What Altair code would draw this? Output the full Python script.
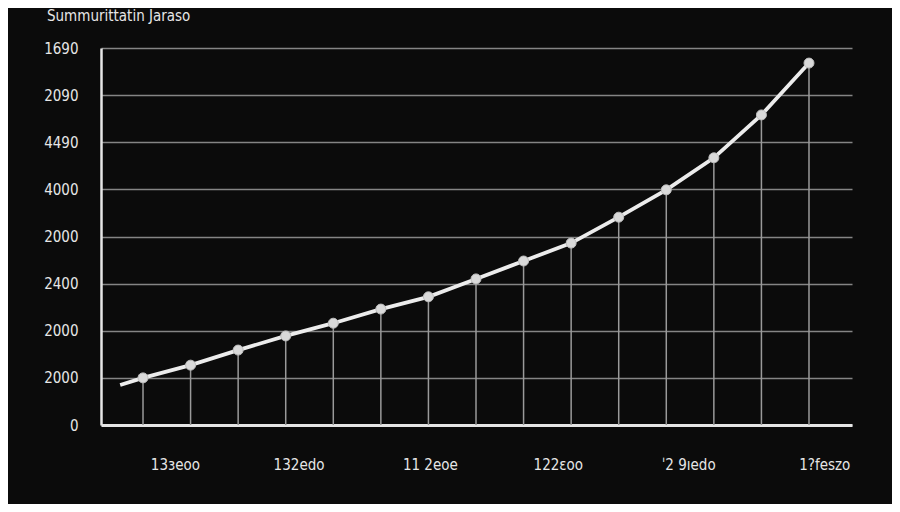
import json
import altair as alt
import pandas as pd

# ---------------- data ----------------
title_text = "Summurittatin Jaraso"

point_index = [1, 2, 3, 4, 5, 6, 7, 8, 9, 10, 11, 12, 13, 14, 15]
point_values = [1000, 1270, 1590, 1890, 2160, 2460, 2720, 3100, 3480, 3860, 4410, 4990, 5670, 6580, 7680]

lead_index = [0.52]
lead_values = [850]

y_tick_values = [0, 1000, 2000, 3000, 4000, 5000, 6000, 7000, 8000]
y_tick_labels = ["0", "2000", "2000", "2400", "2000", "4000", "4490", "2090", "1690"]

x_tick_positions = [1.67, 4.27, 7.03, 9.72, 12.46, 15.32]
x_tick_labels = ["13зeoo", "132edo", "11 2eoe", "122ɛoo", "ˈ2 9ıedo", "1?feszo"]

# ---------------- tables ----------------
points = pd.DataFrame({"idx": point_index, "value": point_values})
line_df = pd.DataFrame({"idx": lead_index + point_index, "value": lead_values + point_values})

BG = "#0b0b0b"
FG = "#e6e6e6"
GRID = "#858585"
FONT = "DejaVu Sans Condensed"

y_label_expr = f"{json.dumps(y_tick_labels)}[indexof({json.dumps(y_tick_values)}, datum.value)]"
x_label_expr = f"{json.dumps(x_tick_labels)}[indexof({json.dumps(x_tick_positions)}, datum.value)]"

x_scale = alt.Scale(domain=[0.117, 15.904], nice=False, zero=False)
y_scale = alt.Scale(domain=[0, 8000], nice=False)

x_axis = alt.Axis(
    values=x_tick_positions, labelExpr=x_label_expr, title=None, grid=False, ticks=False,
    domain=True, domainColor=FG, domainWidth=3, labelPadding=32,
    labelFont=FONT, labelFontSize=15, labelColor=FG,
)
y_axis = alt.Axis(
    values=y_tick_values, labelExpr=y_label_expr, title=None, grid=True,
    gridColor=GRID, gridWidth=1.5, ticks=False, domain=True, domainColor=FG,
    domainWidth=2.5, labelPadding=23, labelFont=FONT, labelFontSize=15, labelColor=FG,
)

drops = alt.Chart(points).mark_rule(color="#9a9a9a", strokeWidth=1.5).encode(
    x=alt.X("idx:Q", scale=x_scale, axis=x_axis),
    y=alt.Y("value:Q", scale=y_scale, axis=y_axis),
    y2=alt.datum(0),
)

line = alt.Chart(line_df).mark_line(color="#ececec", strokeWidth=3.8).encode(
    x=alt.X("idx:Q", scale=x_scale, axis=x_axis),
    y=alt.Y("value:Q", scale=y_scale, axis=y_axis),
    order="idx:Q",
)

dots = alt.Chart(points).mark_circle(
    size=100, color="#d9d9d9", opacity=1, stroke="#bdbdbd", strokeWidth=1
).encode(
    x=alt.X("idx:Q", scale=x_scale, axis=x_axis),
    y=alt.Y("value:Q", scale=y_scale, axis=y_axis),
)

chart = (
    alt.layer(drops, line, dots)
    .properties(
        width=751,
        height=377,
        padding={"left": 93, "top": 40, "right": 40, "bottom": 79},
        autosize=alt.AutoSizeParams(type="none"),
        background=BG,
        title=alt.TitleParams(
            text=title_text, anchor="start", frame="group", dx=-54,
            font=FONT, fontSize=15, fontWeight="normal", color=FG,
            baseline="top", offset=0, dy=-17,
        ),
    )
    .configure_view(stroke=None)
)

chart.save("out.html", embed_options={"renderer": "svg", "actions": False})
